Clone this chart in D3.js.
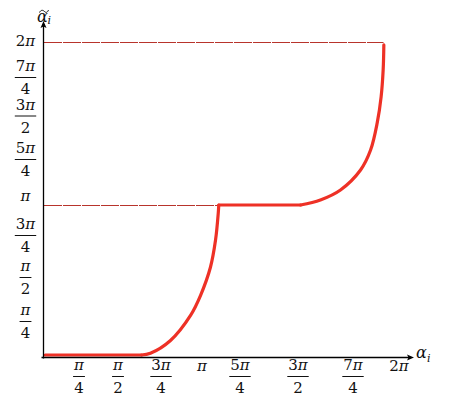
<!DOCTYPE html>
<html><head><meta charset="utf-8">
<script src="https://cdn.jsdelivr.net/npm/d3@7"></script>
<style>
body{margin:0;background:#fff}svg{display:block}
svg text{font-family:"DejaVu Serif","Liberation Serif",serif;fill:#111}
</style></head>
<body>
<svg id="c" width="451" height="405"></svg>
<script>
// ---- data (angles in units of π) ----
const tickValues = [0.25, 0.5, 0.75, 1, 1.25, 1.5, 1.75, 2];
const tickLabels = ["π/4", "π/2", "3π/4", "π", "5π/4", "3π/2", "7π/4", "2π"];
const curveX = [0.01, 0.576, 0.629, 0.747, 0.865, 0.924, 0.982, 1.012, 1.028, 1.031,
                1.512, 1.629, 1.747, 1.865, 1.924, 1.963, 1.986, 1.998, 2.002];
const curveY = [0, 0, 0.012, 0.097, 0.264, 0.398, 0.585, 0.766, 0.946, 1.0,
                1.0, 1.031, 1.092, 1.214, 1.336, 1.502, 1.661, 1.826, 1.979];
const refLevels = [1, 2];
const refEnds = [1.031, 2.0];

const svg = d3.select("#c");

// scales
const x = d3.scaleLinear().domain([0, 2]).range([43.5, 383.5]);
const y = d3.scaleLinear().domain([0, 1, 2]).range([355, 205, 41.5]);
// label placement scales (labels sit at their own positions in the original)
const xl = d3.scaleLinear().domain([0].concat(tickValues)).range([43.5, 79, 118, 161, 202, 240, 298, 353, 399]);
const yl = d3.scaleLinear().domain([0].concat(tickValues)).range([355, 321, 277, 235, 196, 159, 115.5, 77, 41]);

const axisY = 357.5, axisX = 43.5;

// reference lines
refLevels.forEach((lv, i) => {
  svg.append("line")
    .attr("x1", x(0) + 0.5).attr("x2", x(refEnds[i]))
    .attr("y1", Math.round(y(lv)) + 0.5).attr("y2", Math.round(y(lv)) + 0.5)
    .attr("stroke", "#b8342c").attr("stroke-width", 1)
    .attr("stroke-dasharray", "18,1");
});

// curve: split into flat runs (straight) and rising runs (smooth)
const pts = curveX.map((v, i) => [v, curveY[i]]);
const pieces = [];
let cur = [pts[0]], flat = pts[1][1] === pts[0][1];
for (let i = 1; i < pts.length; i++) {
  const f = pts[i][1] === pts[i - 1][1];
  if (f !== flat) { pieces.push({flat, p: cur}); cur = [pts[i - 1]]; flat = f; }
  cur.push(pts[i]);
}
pieces.push({flat, p: cur});
pieces.forEach(pc => {
  svg.append("path")
    .datum(pc.p)
    .attr("d", d3.line().x(d => x(d[0])).y(d => y(d[1]))
      .curve(pc.flat ? d3.curveLinear : d3.curveCatmullRom.alpha(0.5)))
    .attr("fill", "none").attr("stroke", "#ee3126").attr("stroke-width", 3.2)
    .attr("stroke-linecap", "round").attr("stroke-linejoin", "round");
});

// axes
svg.append("line").attr("x1", axisX - 2).attr("x2", 409).attr("y1", axisY).attr("y2", axisY)
  .attr("stroke", "#000").attr("stroke-width", 1.3);
svg.append("path").attr("d", `M414,${axisY} L407,${axisY - 3} L408.5,${axisY} L407,${axisY + 3} Z`).attr("fill", "#000");
svg.append("line").attr("x1", axisX).attr("x2", axisX).attr("y1", axisY + 1).attr("y2", 26)
  .attr("stroke", "#000").attr("stroke-width", 1.3);
svg.append("path").attr("d", `M${axisX},21 L${axisX - 3},28 L${axisX},26.5 L${axisX + 3},28 Z`).attr("fill", "#000");

// helper: text with upright digits and italic π
function mathText(g, str, cx, baseline) {
  const t = g.append("text").attr("x", cx).attr("y", baseline)
    .attr("text-anchor", "middle").attr("font-size", 15);
  const m = str.match(/^(\d*)(π?)$/);
  if (m[1]) t.append("tspan").text(m[1]);
  if (m[2]) t.append("tspan").attr("font-style", "italic").text(m[2]);
  return t;
}
function label(g, str, cx, cy) {
  const parts = str.split("/");
  if (parts.length === 2) {
    const t = mathText(g, parts[0], cx, cy - 6);
    const w = t.node().getComputedTextLength();
    mathText(g, parts[1], cx, cy + 17);
    g.append("line").attr("x1", cx - w / 2 - 1).attr("x2", cx + w / 2 + 1)
      .attr("y1", cy + 0.5).attr("y2", cy + 0.5).attr("stroke", "#111").attr("stroke-width", 1);
  } else {
    mathText(g, str, cx, cy + 5);
  }
}

const gx = svg.append("g");
tickValues.forEach((v, i) => {
  const frac = tickLabels[i].includes("/");
  label(gx, tickLabels[i], xl(v), frac ? 376 : 365.5);
});
const gy = svg.append("g");
tickValues.forEach((v, i) => {
  label(gy, tickLabels[i], 25.5, yl(v));
});

// axis titles
svg.append("text").attr("x", 37).attr("y", 22).attr("font-size", 16)
  .attr("font-style", "italic").text("α");
// tilde accent drawn as a small path
svg.append("path").attr("d", "M39.5,12.5 C41,9.5 43,10 44.5,11.5 C46,13 47.5,12.5 48.5,10")
  .attr("fill", "none").attr("stroke", "#111").attr("stroke-width", 1);
svg.append("text").attr("x", 47.5).attr("y", 24).attr("font-size", 11)
  .attr("font-style", "italic").text("i");

svg.append("text").attr("x", 416).attr("y", 358).attr("font-size", 16)
  .attr("font-style", "italic").text("α");
svg.append("text").attr("x", 427).attr("y", 362).attr("font-size", 11)
  .attr("font-style", "italic").text("i");
</script>
</body></html>
